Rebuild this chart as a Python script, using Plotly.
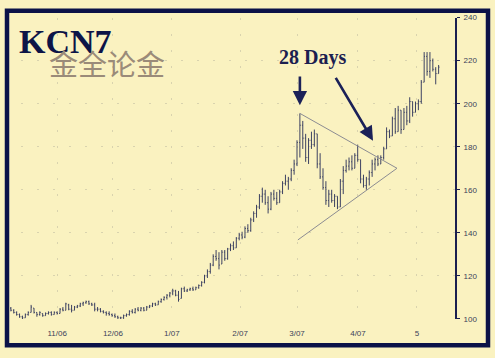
import plotly.graph_objects as go

# ---- data ----
opens = [106,105,104,103,102,101,100.5,102,103,105,103,102,102.5,101.5,102.5,103,102,103,102.5,104.5,
         104,106.5,104.5,104,105.5,106,107,107.5,108,107,106.5,104.5,104.5,103.5,103,102.5,102,101.5,101,100.5,
         100.5,101.5,102,103.5,103,104.5,104,105,104,105.5,106,107,106.5,108,109,110,111,112,113,111,
         109.5,114,113,113.5,114,113.5,114.5,115.5,117,120,122,125,129,128,125.5,131,128,132.5,134,133,
         137.5,139,138,142,141,146,149,152,157,158,154,151,158,156,154,159,163,164,165,169,
         172,182,190,184,175,183,181,186,172,166,161,155,158,155,157,152,164,169,171,173,
         170,176,174,165,162,165,168,172,174,172,175,179,187,185,193,187,197,188,196,192,
         201,196,200,201,210,222,215,220,216,214]
highs = [107,105.5,104.5,103.5,102.5,101.5,102.5,103.5,106.5,105,103,103.5,102.5,103,103.5,103.5,103.5,103.5,105,105.5,
         107.5,107,106.5,106,106.5,107.5,108,108.5,108.5,107.5,107.5,105.5,105,104,103.5,103.5,102.5,102.5,101.5,101,
         102,102.5,104,104.5,105,105.5,105.5,105.5,106,106.5,107.5,107.5,108.5,109.5,110.5,111.5,112.5,114,113.5,113,
         114.5,115,114,114.5,115,115,116,117.5,120.5,123,126,130,132,131,132,132,133,135,136,138,
         140,140.5,143,144,147,150,153,158,161,160,157,159,160,159,160,164,167,166,170,174,
         183,195.5,192,186,184,187,188,186,177,170,164,160,160,158,157,165,171,174,175,176,
         177,181,174,167,166,169,174,175,176,176,180,189,188,194,198,199,197,198,199,203,
         201,201,202,211,224,224,224,221,217,218]
lows = [104,103.5,102.5,101.5,100.5,99.8,100.5,101.5,103,102.5,101,101.5,101,101.5,102,101.5,102,102,102.5,103.5,
        104,104,103,104,105,105.5,106,107,106.5,106,103.5,103.5,103,102.5,101.5,101.5,101,100.5,100,99.5,
        100,101,101.5,102.5,102.5,103.5,103.5,103.5,104,105,105.5,106,106.5,107.5,108.5,109,110,111,110.5,108,
        109.5,112.5,112.5,113,113,113.5,114,115,116.5,119,121,124.5,127,123,125.5,127,127.5,131.5,132,133,
        136.5,137,137.5,140,140.5,145,147,151,154,153,149,150.5,155,153,154,158,162,160,164,167,
        171,175,179,173,172,179,180,170,165,160,153,152,154,152,151,152,158,168,169,169,
        170,173,163,161,160,162,166,169,171,172,174,179,184,185,186,187,186,188,190,191,
        194,196,197,200,210,213,212,215,209,214]
closes = [105,104,103,102,101,100.5,102,103,105.5,103,102,103,101.5,102.5,103,102,103,102.5,104.5,104,
          107,104.5,104,105.5,106,107,107.5,108,107,106.5,104.5,104.5,103.5,103,102.5,102,101.5,101,100.5,100.5,
          101.5,102,103.5,103,104.5,104,105,104,105.5,106,107,106.5,108,109,110,111,112,113,111,109,
          114,113,113.5,114,113.5,114.5,115.5,117,120,122,125,129,128,125,131,128,132.5,134,133,137.5,
          139,138,142,141,146,149,152,157,158,154,151,158,156,154,159,163,164,165,169,172,
          182,190,184,175,183,181,186,172,166,161,155,158,155,157,152,164,169,171,173,170,
          176,174,165,162,165,168,172,174,172,175,179,187,185,193,187,197,188,196,192,201,
          196,200,201,210,222,215,220,216,214,217]
bar_index = list(range(len(closes)))

tick_pos = [17, 36.3, 56.7, 80.3, 100, 121.1, 141.5]
tick_text = ["11/06", "12/06", "1/07", "2/07", "3/07", "4/07", "5"]
y_ticks = [100, 120, 140, 160, 180, 200, 220, 240]

# triangle trend lines (bar index, price)
upper_x = [101, 134.6]
upper_y = [195.5, 170.0]
lower_x = [100.3, 134.6]
lower_y = [136.7, 170.0]

# arrows: (head x, head y, tail x, tail y)
arrow1 = (101.0, 199.3, 101.0, 213.3)
arrow2 = (126.3, 182.8, 113.1, 212.7)

BG = "#faf2c0"
BAR = "#3d4262"

fig = go.Figure()
fig.add_trace(go.Ohlc(
    x=bar_index, open=opens, high=highs, low=lows, close=closes,
    increasing=dict(line=dict(color=BAR, width=1)),
    decreasing=dict(line=dict(color=BAR, width=1)),
    tickwidth=0.3, showlegend=False, hoverinfo="skip"))

for xs, ys in ((upper_x, upper_y), (lower_x, lower_y)):
    fig.add_trace(go.Scatter(x=xs, y=ys, mode="lines",
                             line=dict(color="#8c8c92", width=1),
                             showlegend=False, hoverinfo="skip"))

for hx, hy, tx, ty in (arrow1, arrow2):
    fig.add_annotation(x=hx, y=hy, ax=tx, ay=ty, xref="x", yref="y",
                       axref="x", ayref="y", showarrow=True, text="",
                       arrowhead=2, arrowsize=1.1, arrowwidth=2.6,
                       arrowcolor="#1b2158")

fig.add_annotation(x=105.5, y=221.5, xref="x", yref="y", text="<b>28 Days</b>",
                   showarrow=False,
                   font=dict(family="Liberation Serif", size=20, color="#1b2050"))

fig.add_annotation(x=17 / 495, y=1 - 38 / 358, xref="paper", yref="paper",
                   xanchor="left", yanchor="middle", text="<b>KCN7</b>",
                   showarrow=False,
                   font=dict(family="Liberation Serif", size=34, color="#0d1447"))

fig.add_annotation(x=47 / 495, y=1 - 61 / 358, xref="paper", yref="paper",
                   xanchor="left", yanchor="middle", text="金全论金",
                   showarrow=False,
                   font=dict(family="Noto Sans CJK SC", size=29, color="#9a8b79"))

fig.add_shape(type="rect", xref="paper", yref="paper",
              x0=7 / 495, x1=488 / 495, y0=1 - 350 / 358, y1=1 - 7 / 358,
              line=dict(color="#0b1248", width=4.5), fillcolor="rgba(0,0,0,0)")

x_lo, x_hi = (5 - 8) / 2.89, (455 - 8) / 2.89
fig.update_layout(
    width=495, height=358,
    margin=dict(l=0, r=0, t=0, b=0),
    paper_bgcolor=BG, plot_bgcolor=BG,
    xaxis=dict(domain=[5 / 495, 455 / 495], range=[x_lo, x_hi],
               rangeslider=dict(visible=False),
               tickvals=tick_pos, ticktext=tick_text, ticks="",
               ticklabelstandoff=8,
               tickfont=dict(family="Arial", size=8, color="#3a3f5a"),
               showline=False, zeroline=False,
               showgrid=True, gridcolor="#d9d3ae", griddash="2px,14px", gridwidth=1),
    yaxis=dict(domain=[1 - 323 / 358, 1 - 14 / 358], range=[100, 240],
               side="right", tickvals=y_ticks,
               ticks="outside", ticklen=3, tickcolor="#1a1f4f",
               ticklabelstandoff=2,
               tickfont=dict(family="Arial", size=8, color="#3a3f5a"),
               showline=True, linecolor="#1a1f4f", linewidth=2, zeroline=False,
               showgrid=True, gridcolor="#d9d3ae", griddash="2px,14px", gridwidth=1),
)

fig.write_html("out.html")
